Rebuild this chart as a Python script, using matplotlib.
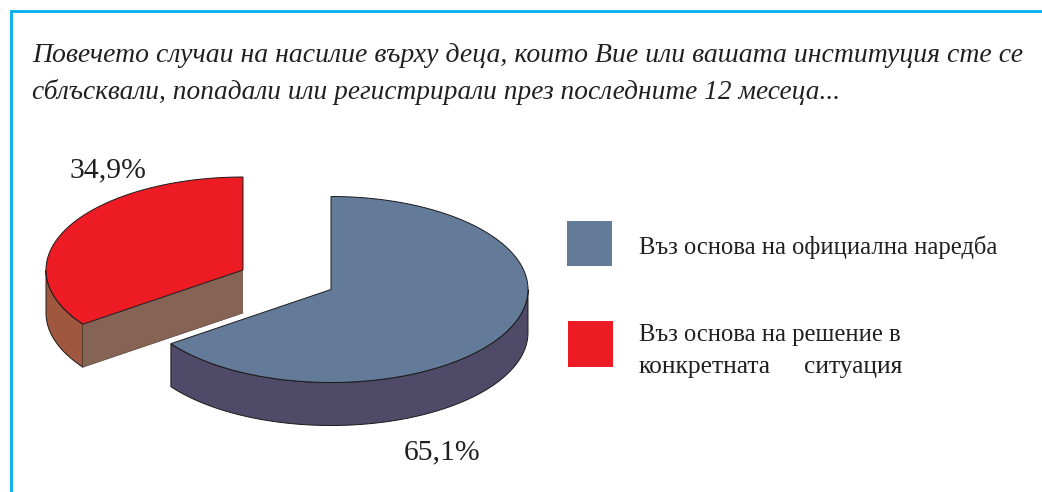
import numpy as np
import matplotlib
matplotlib.use('Agg')
import matplotlib.pyplot as plt
from matplotlib.patches import Polygon, Rectangle

plt.rcParams['font.family'] = ['Liberation Serif', 'DejaVu Serif']

title_lines = ['Повечето случаи на насилие върху деца, които Вие или вашата институция сте се',
               'сблъсквали, попадали или регистрирали през последните 12 месеца...']
values = [65.1, 34.9]
value_labels = ['65,1%', '34,9%']
legend_lines = [['Въз основа на официална наредба'],
                ['Въз основа на решение в', 'конкретната', 'ситуация']]

blue_top = '#647a99'
blue_side = '#4f4a68'
red_top = '#ed1c24'
red_rim = '#a0573f'
red_cut = '#856355'
ink = '#231f20'
border = '#00aeef'

rx, ry, depth = 197, 93, 43


def rim(cx, cy, a0, a1):
    t = np.radians(np.linspace(a0, a1, 200))
    return np.column_stack([cx + rx * np.cos(t), cy - ry * np.sin(t)])


def side(ax, pts, color):
    low = pts[::-1] + [0, depth]
    ax.add_patch(Polygon(np.vstack([pts, low]), closed=True, fc=color, ec='#1a1a1a', lw=0.7))


fig = plt.figure(figsize=(10.42, 4.92), dpi=100)
ax = fig.add_axes([0, 0, 1, 1])
ax.set_xlim(0, 1042)
ax.set_ylim(492, 0)
ax.axis('off')

# frame, only top and left sides
ax.plot([1042, 10.5, 10.5], [10.5, 10.5, 492], color=border, lw=2, solid_joinstyle='miter')

ax.text(32, 56, title_lines[0], fontsize=19.95, style='italic', color=ink, va='center')
ax.text(32, 92, title_lines[1], fontsize=19.7, style='italic', color=ink, va='center')

# both slices start from 12 o'clock, angle comes from the value
split = 90 - values[0] * 3.6

# red slice, pulled out to the upper left
cx, cy = 243, 270
top = rim(cx, cy, 90, 90 + values[1] * 3.6)
end = top[-1]
side(ax, rim(cx, cy, 180, 90 + values[1] * 3.6), red_rim)
ax.add_patch(Polygon(np.array([end, [cx, cy], [cx, cy + depth], end + [0, depth]]),
                     closed=True, fc=red_cut, ec='none'))
ax.plot([end[0], cx], [end[1] + depth, cy + depth], color='#5a4238', lw=0.5)
ax.add_patch(Polygon(np.vstack([[cx, cy], top]), closed=True, fc=red_top, ec='#1a1a1a', lw=0.7))

# blue slice
cx, cy = 331, 289.5
side(ax, rim(cx, cy, split, 0), blue_side)
ax.add_patch(Polygon(np.vstack([[cx, cy], rim(cx, cy, 90, split)]), closed=True,
                     fc=blue_top, ec='#1a1a1a', lw=0.7))

ax.text(442.5, 452, value_labels[0], fontsize=21.4, color=ink, ha='center', va='center')
ax.text(108, 170, value_labels[1], fontsize=21.4, color=ink, ha='center', va='center')

# legend
ax.add_patch(Rectangle((567, 221), 45, 45, fc=blue_top, ec='none'))
ax.add_patch(Rectangle((568, 321), 45, 46, fc=red_top, ec='none'))
ax.text(639, 247, legend_lines[0][0], fontsize=17.75, color=ink, va='center')
ax.text(639, 335, legend_lines[1][0], fontsize=17.75, color=ink, va='center')
ax.text(639, 367, legend_lines[1][1], fontsize=18.4, color=ink, va='center')
ax.text(804, 367, legend_lines[1][2], fontsize=18.4, color=ink, va='center')

fig.savefig('out.png', dpi=100)
